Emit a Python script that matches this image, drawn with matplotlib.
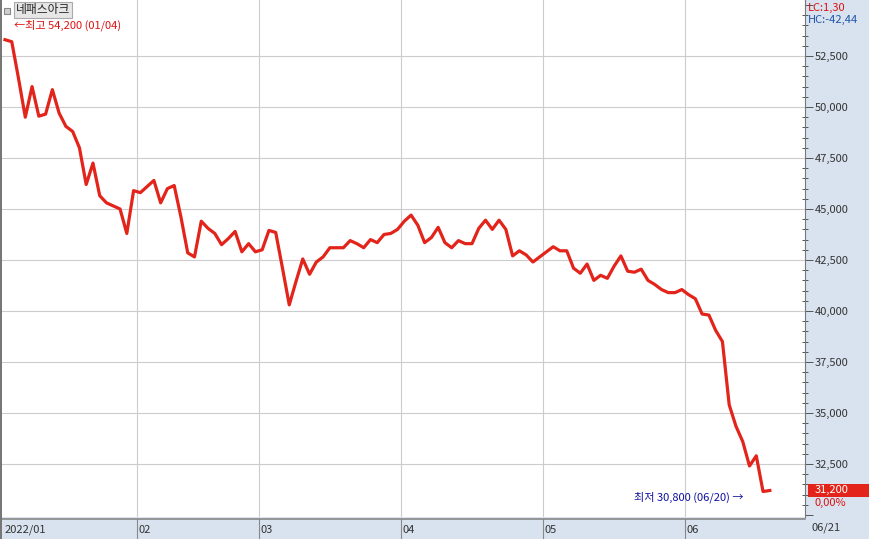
import matplotlib.pyplot as plt
import matplotlib.transforms as mtransforms
from matplotlib.patches import Rectangle
from matplotlib.ticker import MultipleLocator, FuncFormatter

plt.rcParams['font.family'] = ['Noto Sans CJK KR', 'DejaVu Sans']

# 네패스아크 daily close, 2022/01/03 .. 2022/06/21 (one value per trading day)
jan = [53300, 53200, 51400, 49500, 51000, 49550, 49650, 50850, 49700, 49050,
       48800, 48000, 46200, 47250, 45650, 45300, 45150, 45000, 43800, 45900]
feb = [45800, 46100, 46400, 45300, 46000, 46150, 44600, 42850, 42650, 44400,
       44050, 43800, 43250, 43550, 43900, 42900, 43300, 42900]
mar = [43000, 43950, 43850, 42100, 40300, 41450, 42550, 41800, 42400, 42650,
       43100, 43100, 43100, 43450, 43300, 43100, 43500, 43350, 43750, 43800, 44000]
apr = [44400, 44700, 44200, 43350, 43600, 44100, 43350, 43100, 43450, 43300,
       43300, 44050, 44450, 44000, 44450, 44000, 42700, 42950, 42750, 42400, 42650]
may = [42900, 43150, 42950, 42950, 42100, 41850, 42300, 41500, 41750, 41600,
       42200, 42700, 41950, 41900, 42050, 41500, 41300, 41050, 40900, 40900, 41050]
jun = [40800, 40600, 39850, 39800, 39050, 38500, 35400, 34350, 33600, 32400,
       32900, 31150, 31200]

prices = jan + feb + mar + apr + may + jun
days = list(range(len(prices)))

month_labels = ['2022/01', '02', '03', '04', '05', '06']
month_start = [0, 20, 38, 59, 80, 101]
last_date = '06/21'
high_text = '←최고 54,200 (01/04)'
low_text = '최저 30,800 (06/20) →'

W, H = 869, 539
band = '#d9e3ef'
red = '#e3241b'

fig = plt.figure(figsize=(W / 100, H / 100), dpi=100)
fig.patch.set_facecolor(band)

# main plot area in pixel terms: x 2..805, y 0..517
ax = fig.add_axes([2 / W, (H - 517) / H, 803 / W, 517 / H])
ax.set_facecolor('white')
ax.plot(days, prices, color=red, lw=2.3, solid_joinstyle='round', zorder=3)

ax.set_xlim(-0.44, 118.2)
ax.set_ylim(29900, 55245)

grid_x = [m - 0.5 for m in month_start[1:]]
for gx in grid_x:
    ax.axvline(gx, color='#cccccc', lw=0.8, zorder=1)
for gy in range(32500, 55000, 2500):
    ax.axhline(gy, color='#cccccc', lw=0.8, zorder=1)

ax.set_xticks([])
ax.yaxis.tick_right()
ax.yaxis.set_major_locator(MultipleLocator(2500))
ax.yaxis.set_minor_locator(MultipleLocator(500))
ax.yaxis.set_major_formatter(FuncFormatter(lambda v, p: f'{int(v):,}' if 31000 < v < 55000 else ''))
ax.tick_params(axis='y', which='major', direction='out', length=6, width=0.7,
               color='#555555', labelsize=8, labelcolor='#333333', pad=1)
ax.tick_params(axis='y', which='minor', direction='inout', length=5, width=0.7,
               color='#555555')
for s in ['top', 'left', 'bottom']:
    ax.spines[s].set_visible(False)
ax.spines['right'].set_color('#777777')
ax.spines['right'].set_linewidth(0.8)

# bottom date band
axb = fig.add_axes([2 / W, 0, 803 / W, 20 / H])
axb.set_facecolor(band)
axb.set_xlim(ax.get_xlim())
axb.set_ylim(0, 1)
axb.set_xticks([])
axb.set_yticks([])
for s in ['left', 'bottom', 'right']:
    axb.spines[s].set_visible(False)
axb.spines['top'].set_color('#888888')
axb.spines['top'].set_linewidth(1.2)
for gx in grid_x:
    axb.axvline(gx, color='#888888', lw=0.8)
label_x = [-0.3] + grid_x
for lx, lab in zip(label_x, month_labels):
    axb.text(lx + 0.2, 0.45, lab, fontsize=8, color='#333333', va='center', ha='left')
fig.text(812 / W, 1 - 528 / H, last_date, fontsize=8, color='#333333', va='center')

# dark left edge
fig.add_artist(Rectangle((0, 0), 2 / W, 1, transform=fig.transFigure,
                         facecolor='#777777', edgecolor='none'))

# name box
fig.add_artist(Rectangle((4 / W, 1 - 14 / H), 6 / W, 6 / H, transform=fig.transFigure,
                         facecolor='#d0d0d0', edgecolor='#888888', lw=0.8))
fig.text(16 / W, 1 - 10 / H, '네패스아크', fontsize=8.5, color='#222222', va='center',
         bbox=dict(boxstyle='square,pad=0.15', facecolor='#e6e6e6', edgecolor='#aaaaaa', lw=0.8))

fig.text(14 / W, 1 - 25 / H, high_text, fontsize=8, color='#dd1111', va='center')
fig.text(634 / W, 1 - 497 / H, low_text, fontsize=8, color='#1010a0', va='center')

fig.text(808 / W, 1 - 8 / H, 'LC:1,30', fontsize=8, color='#dd1111', va='center')
fig.text(808 / W, 1 - 20 / H, 'HC:-42,44', fontsize=8, color='#2255aa', va='center')

# last price tag
trans = mtransforms.blended_transform_factory(ax.transAxes, ax.transData)
ax.add_patch(Rectangle((1.004, prices[-1] - 320), 0.08, 640, transform=trans,
                       facecolor=red, edgecolor='none', clip_on=False, zorder=5))
ax.text(1.012, prices[-1], f'{prices[-1]:,}', transform=trans, fontsize=8,
        color='white', va='center', zorder=6)
ax.text(1.012, prices[-1] - 620, '0,00%', transform=trans, fontsize=8,
        color='#dd1111', va='center')

fig.savefig('out.png', dpi=100, facecolor=fig.get_facecolor())
